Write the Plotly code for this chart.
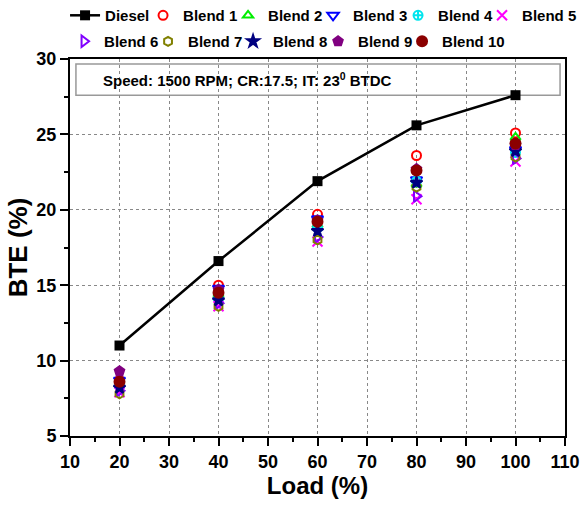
import plotly.graph_objects as go

loads = [20, 40, 60, 80, 100]
diesel = [11.0, 16.6, 21.9, 25.6, 27.6]
blend1 = [8.7, 15.0, 19.7, 23.6, 25.1]
blend2 = [8.4, 14.4, 19.0, 21.7, 24.8]
blend3 = [8.7, 14.8, 19.4, 22.0, 24.0]
blend4 = [8.3, 14.1, 18.8, 21.9, 23.8]
blend5 = [7.9, 13.6, 17.9, 20.7, 23.2]
blend6 = [8.0, 13.8, 18.2, 20.9, 23.4]
blend7 = [7.8, 13.6, 18.0, 21.5, 23.5]
blend8 = [8.2, 14.0, 18.6, 21.8, 23.9]
blend9 = [9.3, 14.7, 19.3, 22.7, 24.3]
blend10 = [8.6, 14.5, 19.2, 22.6, 24.4]

x_ticks = list(range(10, 111, 10))
y_ticks = [5, 10, 15, 20, 25, 30]

# name, values, symbol, colour, size, legend, legend entry width
blends = [
    ("Blend 1", blend1, "circle-open", "#ff0000", 9, "legend", 40),
    ("Blend 2", blend2, "triangle-up-open", "#00ee00", 9, "legend", 40),
    ("Blend 3", blend3, "triangle-down-open", "#0000ff", 10, "legend", 40),
    ("Blend 4", blend4, "circle-cross-open", "#00e5ee", 9, "legend", 39),
    ("Blend 5", blend5, "x-thin-open", "#ff00ff", 10, "legend", 58),
    ("Blend 6", blend6, "triangle-right-open", "#8000ff", 10, "legend2", 39),
    ("Blend 7", blend7, "hexagon-open", "#808000", 9, "legend2", 40),
    ("Blend 8", blend8, "star", "#000080", 9, "legend2", 40),
    ("Blend 9", blend9, "pentagon", "#800080", 10, "legend2", 39),
    ("Blend 10", blend10, "circle", "#8b0000", 10, "legend2", 64),
]

fig = go.Figure()
fig.add_trace(go.Scatter(
    x=loads, y=diesel, name="Diesel", mode="lines+markers",
    line=dict(color="black", width=2.5),
    marker=dict(symbol="square", size=10, color="black"),
    legend="legend", legendwidth=33,
))
for name, vals, sym, col, sz, lg, lw in blends:
    fig.add_trace(go.Scatter(
        x=loads, y=vals, name=name, mode="markers",
        marker=dict(symbol=sym, size=sz, color=col,
                    line=dict(color=col, width=2)),
        legend=lg, legendwidth=lw,
    ))

leg_font = dict(family="Liberation Sans", size=15, color="black", weight="bold")

fig.update_layout(
    width=583, height=506,
    margin=dict(l=70, r=18, t=59, b=70, autoexpand=False),
    paper_bgcolor="white", plot_bgcolor="white",
    font=dict(family="Liberation Sans", color="black"),
    legend=dict(
        orientation="h", x=-0.01, xanchor="left", y=1.159, yanchor="top",
        font=leg_font, bgcolor="rgba(0,0,0,0)", itemwidth=30,
    ),
    legend2=dict(
        orientation="h", x=-0.012, xanchor="left", y=1.090, yanchor="top",
        font=leg_font, bgcolor="rgba(0,0,0,0)", itemwidth=30,
    ),
    xaxis=dict(
        range=[10, 110], tickvals=x_ticks, ticktext=[str(v) for v in x_ticks],
        showline=True, linecolor="black", linewidth=2, mirror=True,
        ticks="outside", ticklen=8, tickwidth=2, tickcolor="black",
        minor=dict(dtick=5, ticklen=4, tickwidth=2, tickcolor="black", ticks="outside", showgrid=False),
        showgrid=True, gridcolor="#888888", griddash="dot", gridwidth=1,
        zeroline=False,
        tickfont=dict(family="Liberation Sans", size=18, color="black", weight="bold"),
        title=dict(text="Load (%)", font=dict(family="Liberation Sans", size=24, color="black", weight="bold"), standoff=6),
    ),
    yaxis=dict(
        range=[5, 30], tickvals=y_ticks, ticktext=[str(v) for v in y_ticks],
        showline=True, linecolor="black", linewidth=2, mirror=True,
        ticks="outside", ticklen=8, tickwidth=2, tickcolor="black",
        minor=dict(dtick=2.5, ticklen=4, tickwidth=2, tickcolor="black", ticks="outside", showgrid=False),
        showgrid=True, gridcolor="#888888", griddash="dot", gridwidth=1,
        zeroline=False,
        tickfont=dict(family="Liberation Sans", size=18, color="black", weight="bold"),
        title=dict(text="BTE (%)", font=dict(family="Liberation Sans", size=26, color="black", weight="bold"), standoff=1),
    ),
    shapes=[dict(
        type="rect", xref="paper", yref="paper",
        x0=0.012, x1=0.99, y0=0.904, y1=0.987,
        line=dict(color="#999999", width=1.5), fillcolor="white", layer="between",
    )],
    annotations=[dict(
        xref="paper", yref="paper", x=0.358, y=0.945, xanchor="center", yanchor="middle",
        text="Speed: 1500 RPM; CR:17.5; IT: 23<sup>0</sup> BTDC", showarrow=False,
        font=dict(family="Liberation Sans", size=15, color="black", weight="bold"),
    )],
)

fig.write_html("out.html")
